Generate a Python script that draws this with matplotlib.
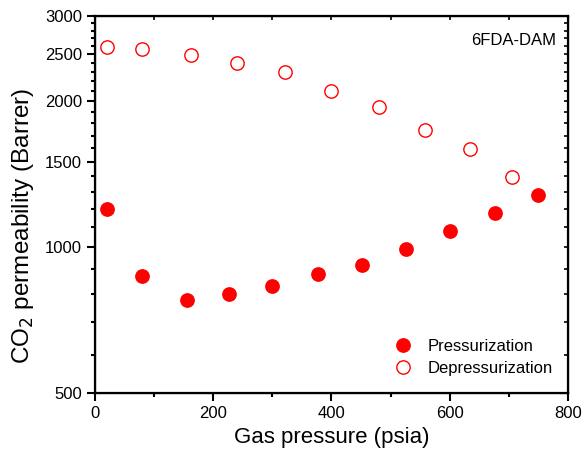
import matplotlib.pyplot as plt
import numpy as np
from matplotlib.ticker import FixedLocator, NullFormatter, FuncFormatter

plt.rcParams['font.family'] = ['Liberation Sans', 'DejaVu Sans']

# pressurization (filled)
p_press = [21, 79, 156, 227, 300, 378, 451, 527, 600, 676, 749]
perm_press = [1199, 870, 779, 799, 830, 879, 919, 992, 1081, 1179, 1279]

# depressurization (open)
p_depress = [21, 80, 162, 241, 321, 400, 480, 559, 635, 705]
perm_depress = [2590, 2566, 2491, 2395, 2295, 2100, 1944, 1746, 1596, 1398]

y_major = [500, 1000, 1500, 2000, 2500, 3000]

fig = plt.figure(figsize=(5.83, 4.63), dpi=100)
ax = fig.add_axes([0.163, 0.1512, 0.811, 0.8142])

ax.plot(p_press, perm_press, 'o', color='red', markersize=9.6, label='Pressurization')
ax.plot(p_depress, perm_depress, 'o', markerfacecolor='none', markeredgecolor='red',
        markeredgewidth=1.0, markersize=9.6, label='Depressurization')

ax.set_yscale('log')
ax.set_xlim(0, 800)
ax.set_ylim(500, 3000)

ax.xaxis.set_major_locator(FixedLocator(range(0, 801, 200)))
ax.xaxis.set_minor_locator(FixedLocator(range(100, 800, 200)))
ax.yaxis.set_major_locator(FixedLocator(y_major))
ax.yaxis.set_major_formatter(FuncFormatter(lambda v, pos: '%d' % v))
ax.yaxis.set_minor_locator(FixedLocator(np.arange(600, 3000, 100)))
ax.yaxis.set_minor_formatter(NullFormatter())

ax.tick_params(which='major', direction='out', length=6, width=1.5, labelsize=12)
ax.tick_params(which='minor', direction='out', length=3, width=1.5)

for s in ax.spines.values():
    s.set_linewidth(1.6)

# inward ticks on top and right
axt = ax.twiny()
axt.set_xlim(0, 800)
axt.xaxis.set_major_locator(FixedLocator(range(0, 801, 100)))
axt.tick_params(direction='in', length=3, width=1.2, labeltop=False)

axr = ax.twinx()
axr.set_yscale('log')
axr.set_ylim(500, 3000)
axr.yaxis.set_major_locator(FixedLocator(y_major))
axr.yaxis.set_minor_locator(FixedLocator(np.arange(600, 3000, 100)))
axr.yaxis.set_major_formatter(NullFormatter())
axr.yaxis.set_minor_formatter(NullFormatter())
axr.tick_params(which='both', direction='in', length=3, width=1.2, labelright=False)

ax.set_xlabel('Gas pressure (psia)', fontsize=16)
ax.set_ylabel('CO$_2$ permeability (Barrer)', fontsize=17.5)
ax.yaxis.set_label_coords(-0.125, 0.443)

ax.text(0.975, 0.955, '6FDA-DAM', transform=ax.transAxes, ha='right', va='top', fontsize=12)

ax.legend(loc='lower right', bbox_to_anchor=(1.0, 0.005), frameon=False, fontsize=12,
          handletextpad=0.5, labelspacing=0.45)

fig.savefig('out.png', dpi=100)
